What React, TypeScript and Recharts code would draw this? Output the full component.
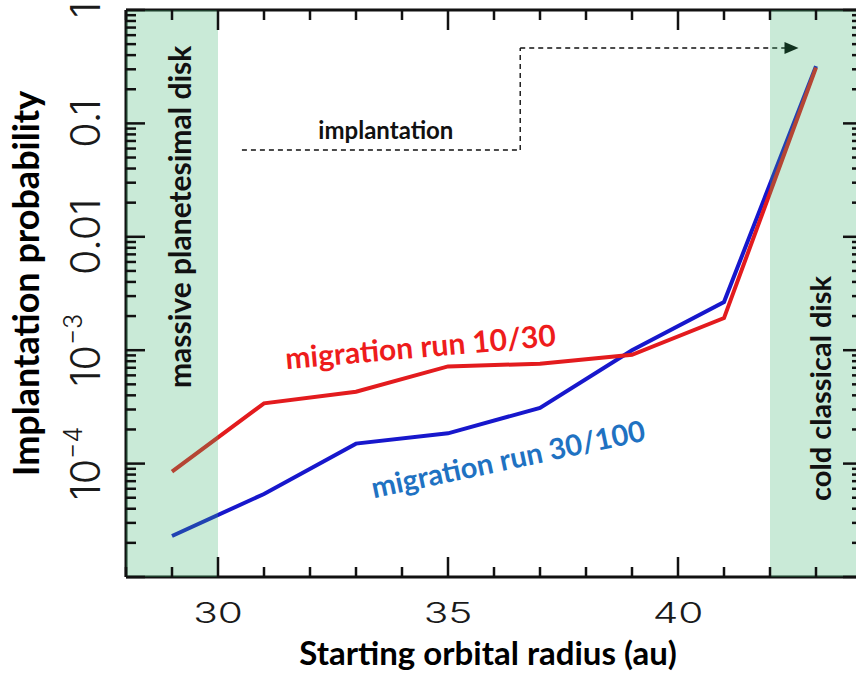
import React from 'react';
import {
  LineChart,
  Line,
  XAxis,
  YAxis,
  ReferenceArea,
  ReferenceLine,
  ReferenceDot,
} from 'recharts';

// ---------- data ----------
const radii = [29, 31, 33, 35, 37, 39, 41, 43];
const run10_30 = [8.5e-5, 3.4e-4, 4.3e-4, 7.2e-4, 7.6e-4, 9.1e-4, 1.92e-3, 0.31];
const run30_100 = [2.3e-5, 5.4e-5, 1.5e-4, 1.85e-4, 3.1e-4, 1.0e-3, 2.66e-3, 0.32];

const xTicks = [28, 29, 30, 31, 32, 33, 34, 35, 36, 37, 38, 39, 40, 41, 42, 43, 44];
const xTickLabels = [30, 35, 40];
const xMajor = [30, 35, 40];

const yDecades = [1e-5, 1e-4, 1e-3, 0.01, 0.1, 1];
const yMantissas = [2, 3, 4, 5, 6, 7, 8, 9];
const yTickLabels = [
  { value: 1, text: '1', exp: '' },
  { value: 0.1, text: '0.1', exp: '' },
  { value: 0.01, text: '0.01', exp: '' },
  { value: 1e-3, text: '10', exp: '\u22123' },
  { value: 1e-4, text: '10', exp: '\u22124' },
];

const shadedRegions = [
  { x1: 28, x2: 30 },
  { x1: 42, x2: 44 },
];

const arrowPath = [
  { x: 30.52, y: 0.0582 },
  { x: 36.57, y: 0.0582 },
  { x: 36.57, y: 0.462 },
  { x: 42.62, y: 0.462 },
];

const annotations = [
  { x: 33.65, y: 0.0875, text: 'implantation', angle: 0, color: '#111', size: 24 },
  { x: 29.15, y: 0.015, text: 'massive planetesimal disk', angle: -90, color: '#111', size: 30 },
  { x: 43.08, y: 4.6e-4, text: 'cold classical disk', angle: -90, color: '#111', size: 29 },
  { x: 34.4, y: 1.1e-3, text: 'migration run 10/30', angle: -5, color: '#ee1c1c', size: 30 },
  { x: 36.3, y: 1.12e-4, text: 'migration run 30/100', angle: -12, color: '#1f72c2', size: 29 },
];

const chartData = radii.map((r, i) => ({ r, a: run10_30[i], b: run30_100[i] }));
const yTicks = yDecades.concat(
  yDecades.slice(0, -1).flatMap((d) => yMantissas.map((m) => m * d))
);

// ---------- styles ----------
const AXIS = '#111';
const BOLD_FONT = 'Lato, "Open Sans", sans-serif';
const TICK_FONT = 'Inter, "Liberation Sans", sans-serif';

const isDecade = (v: number) => {
  const l = Math.log10(v);
  return Math.abs(l - Math.round(l)) < 1e-6;
};

const BottomTick = (props: any) => {
  const { x, y, payload } = props;
  const v = payload.value;
  const len = xMajor.includes(v) ? 20 : 10;
  return (
    <g>
      <line x1={x} y1={y} x2={x} y2={y - len} stroke={AXIS} strokeWidth={2.5} />
      {xTickLabels.includes(v) && (
        <text
          transform={`translate(${x},${y + 46}) scale(1.45,1)`}
          textAnchor="middle"
          fontFamily={TICK_FONT}
          fontWeight={300}
          fontSize={28}
          fill="#1a1a1a"
        >
          {v}
        </text>
      )}
    </g>
  );
};

const TopTick = (props: any) => {
  const { x, y, payload } = props;
  const len = xMajor.includes(payload.value) ? 20 : 10;
  return <line x1={x} y1={y} x2={x} y2={y + len} stroke={AXIS} strokeWidth={2.5} />;
};

const LeftTick = (props: any) => {
  const { x, y, payload } = props;
  const v = payload.value;
  const major = isDecade(v);
  const lab = yTickLabels.find((t) => Math.abs(Math.log10(t.value) - Math.log10(v)) < 1e-6);
  const bx = x - 26;
  return (
    <g>
      <line x1={x} y1={y} x2={x + (major ? 19 : 10)} y2={y} stroke={AXIS} strokeWidth={2.5} />
      {lab && (
        <text
          x={bx}
          y={y}
          transform={`rotate(-90 ${bx} ${y})`}
          textAnchor="middle"
          fontFamily={TICK_FONT}
          fontWeight={300}
          fontSize={41}
          fill="#1a1a1a"
        >
          {lab.text}
          {lab.exp && (
            <tspan dy={-18} fontSize={25}>
              {lab.exp}
            </tspan>
          )}
        </text>
      )}
    </g>
  );
};

const RightTick = (props: any) => {
  const { x, y, payload } = props;
  const major = isDecade(payload.value);
  return <line x1={x} y1={y} x2={x - (major ? 19 : 10)} y2={y} stroke={AXIS} strokeWidth={2.5} />;
};

const XTitle = (props: any) => {
  const { viewBox } = props;
  const cx = viewBox.x + viewBox.width / 2 - 6;
  return (
    <text
      x={cx}
      y={viewBox.y + 88}
      textAnchor="middle"
      fontFamily={BOLD_FONT}
      fontWeight={700}
      fontSize={33}
      fill="#000"
    >
      Starting orbital radius (au)
    </text>
  );
};

const YTitle = (props: any) => {
  const { viewBox } = props;
  const bx = viewBox.x + 39;
  const cy = viewBox.y + viewBox.height / 2 - 10;
  return (
    <text
      x={bx}
      y={cy}
      transform={`rotate(-90 ${bx} ${cy})`}
      textAnchor="middle"
      fontFamily={BOLD_FONT}
      fontWeight={700}
      fontSize={36}
      fill="#000"
    >
      Implantation probability
    </text>
  );
};

const makeAnnotation = (a: (typeof annotations)[number]) => (props: any) => {
  const { viewBox } = props;
  const cx = viewBox.x + viewBox.width / 2;
  const cy = viewBox.y + viewBox.height / 2;
  return (
    <text
      x={cx}
      y={cy}
      transform={`rotate(${a.angle} ${cx} ${cy})`}
      textAnchor="middle"
      dominantBaseline="central"
      fontFamily={BOLD_FONT}
      fontWeight={700}
      fontSize={a.size}
      fill={a.color}
    >
      {a.text}
    </text>
  );
};

const ArrowShape = (p: any) => {
  const { x1, y1, x2, y2 } = p;
  return (
    <g>
      <line x1={x1} y1={y1} x2={x2 - 12} y2={y2} stroke="#111" strokeWidth={1.4} strokeDasharray="5 4" />
      <polygon points={`${x2},${y2} ${x2 - 14},${y2 - 6} ${x2 - 14},${y2 + 6}`} fill="#000" />
    </g>
  );
};

export default function App() {
  return (
    <div
      style={{
        position: 'fixed',
        left: 0,
        top: 0,
        width: 856,
        height: 677,
        overflow: 'hidden',
        background: '#fff',
      }}
    >
      <LineChart
        width={880}
        height={677}
        data={chartData}
        margin={{ top: 0, right: 0, bottom: 0, left: 0 }}
      >
        <XAxis
          xAxisId="bottom"
          dataKey="r"
          type="number"
          domain={[28, 44]}
          ticks={xTicks}
          interval={0}
          allowDataOverflow
          height={100}
          tickSize={0}
          tickMargin={0}
          tickLine={false}
          axisLine={{ stroke: AXIS, strokeWidth: 3 }}
          tick={<BottomTick />}
          label={{ content: <XTitle /> }}
        />
        <XAxis
          xAxisId="top"
          orientation="top"
          dataKey="r"
          type="number"
          domain={[28, 44]}
          ticks={xTicks}
          interval={0}
          allowDataOverflow
          height={10}
          tickSize={0}
          tickMargin={0}
          tickLine={false}
          axisLine={{ stroke: AXIS, strokeWidth: 3 }}
          tick={<TopTick />}
        />
        <YAxis
          yAxisId="left"
          scale="log"
          type="number"
          domain={[1e-5, 1]}
          ticks={yTicks}
          interval={0}
          allowDataOverflow
          width={126}
          tickSize={0}
          tickMargin={0}
          tickLine={false}
          axisLine={{ stroke: AXIS, strokeWidth: 3 }}
          tick={<LeftTick />}
          label={{ content: <YTitle /> }}
        />
        <YAxis
          yAxisId="right"
          orientation="right"
          scale="log"
          type="number"
          domain={[1e-5, 1]}
          ticks={yTicks}
          interval={0}
          allowDataOverflow
          width={18}
          tickSize={0}
          tickMargin={0}
          tickLine={false}
          axisLine={{ stroke: AXIS, strokeWidth: 3 }}
          tick={<RightTick />}
        />

        <Line
          xAxisId="bottom"
          yAxisId="left"
          dataKey="b"
          stroke="#1717cc"
          strokeWidth={4}
          dot={false}
          isAnimationActive={false}
        />
        <Line
          xAxisId="bottom"
          yAxisId="left"
          dataKey="a"
          stroke="#e31b1e"
          strokeWidth={4}
          dot={false}
          isAnimationActive={false}
        />

        {shadedRegions.map((s, i) => (
          <ReferenceArea
            key={`area-${i}`}
            xAxisId="bottom"
            yAxisId="left"
            x1={s.x1}
            x2={s.x2}
            y1={1e-5}
            y2={1}
            fill="#3cb371"
            fillOpacity={0.28}
            stroke="none"
            ifOverflow="visible"
            zIndex={1500}
          />
        ))}

        {arrowPath.slice(0, -1).map((p, i) => {
          const q = arrowPath[i + 1];
          const last = i === arrowPath.length - 2;
          return (
            <ReferenceLine
              key={`seg-${i}`}
              xAxisId="bottom"
              yAxisId="left"
              segment={[p, q]}
              stroke="#111"
              strokeWidth={1.4}
              strokeDasharray="5 4"
              ifOverflow="visible"
              shape={last ? ArrowShape : undefined}
            />
          );
        })}

        {annotations.map((a, i) => (
          <ReferenceDot
            key={`ann-${i}`}
            xAxisId="bottom"
            yAxisId="left"
            x={a.x}
            y={a.y}
            r={1}
            fill="none"
            stroke="none"
            ifOverflow="visible"
            zIndex={2000}
            label={{ content: makeAnnotation(a) }}
          />
        ))}
      </LineChart>
    </div>
  );
}
